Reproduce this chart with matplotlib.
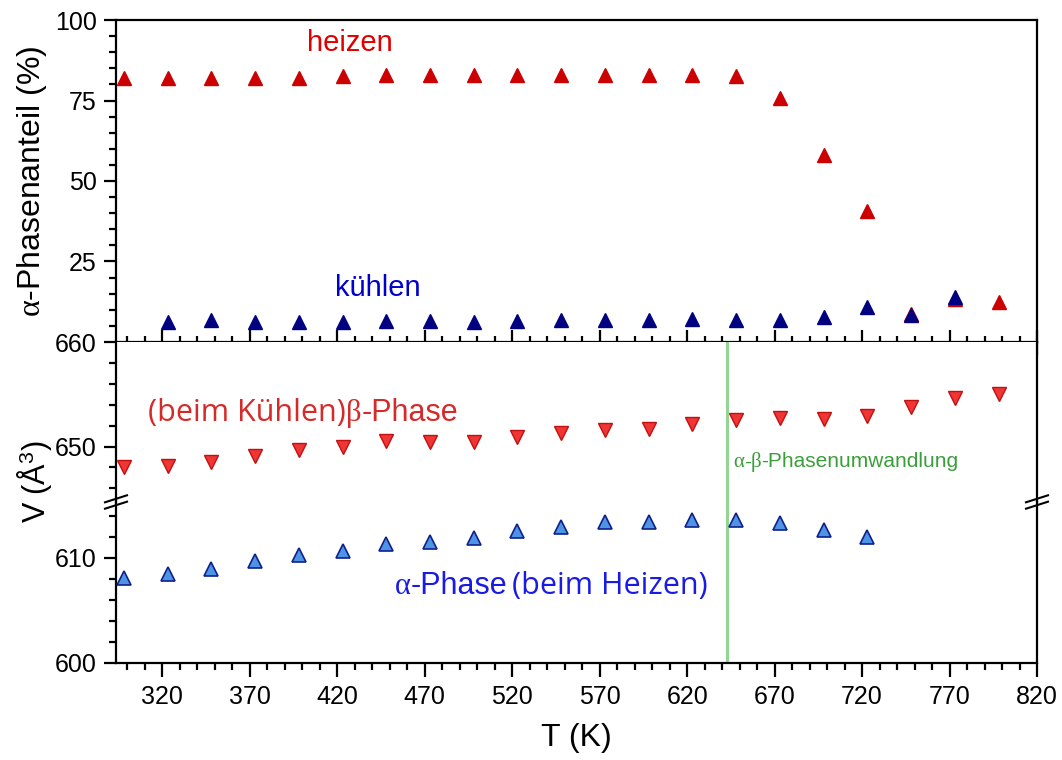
import numpy as np
import matplotlib
matplotlib.use("Agg")
import matplotlib.pyplot as plt
from matplotlib.ticker import FixedLocator, MultipleLocator

plt.rcParams["font.family"] = ["Liberation Sans", "DejaVu Sans"]
plt.rcParams["mathtext.fontset"] = "custom"
plt.rcParams["mathtext.rm"] = "Liberation Serif"
plt.rcParams["mathtext.it"] = "Liberation Serif:italic"

# temperature steps (K)
T_all = np.arange(298, 799, 25)

# alpha phase fraction (%) while heating / cooling
frac_heat = [82, 82, 82, 82, 82, 82.5, 83, 83, 83, 83, 83, 83, 83, 83,
             82.5, 75.8, 58.0, 40.6, 8.8, 13.4, 12.5]
T_cool_frac = T_all[1:20]
frac_cool = [6.2, 6.8, 6.3, 6.3, 6.3, 6.5, 6.5, 6.3, 6.6, 6.8, 6.8, 6.8,
             7.0, 6.8, 6.8, 7.8, 10.9, 8.4, 14.1]

# cell volume (A^3): beta phase on cooling, alpha phase on heating
vol_beta = [648.0, 648.1, 648.5, 649.1, 649.7, 650.0, 650.5, 650.4, 650.4,
            650.9, 651.3, 651.6, 651.7, 652.2, 652.5, 652.7, 652.6, 652.9,
            653.8, 654.6, 655.0]
T_alpha = T_all[:18]
vol_alpha = [608.1, 608.5, 608.9, 609.7, 610.3, 610.6, 611.3, 611.5, 611.9,
             612.5, 612.9, 613.4, 613.4, 613.6, 613.6, 613.3, 612.6, 612.0]

T_transition = 643

W, H = 1062, 760
fig = plt.figure(figsize=(W / 100, H / 100), dpi=100)
left, width = 116 / W, (1037 - 116) / W
ax_top = fig.add_axes([left, 1 - 342 / H, width, 322 / H])
ax_vu = fig.add_axes([left, 1 - 502 / H, width, 160 / H], sharex=ax_top)
ax_vl = fig.add_axes([left, 1 - 663 / H, width, 161 / H], sharex=ax_top)

lw = 1.6
for ax in (ax_top, ax_vu, ax_vl):
    for sp in ax.spines.values():
        sp.set_linewidth(lw)
    ax.tick_params(which="both", width=lw, labelsize=18, right=False, top=False)
    ax.tick_params(axis="y", which="major", direction="out", length=9, pad=5)
    ax.tick_params(axis="y", which="minor", direction="out", length=5)

ax_top.set_xlim(293.5, 820)
ax_top.xaxis.set_major_locator(FixedLocator(np.arange(320, 821, 50)))
ax_top.xaxis.set_minor_locator(MultipleLocator(10))

# --- phase fraction panel ---
ax_top.plot(T_all, frac_heat, "^", ms=10, color="#cc0000", mec="#cc0000", zorder=3)
ax_top.plot(T_cool_frac, frac_cool, "^", ms=10, color="#000080", mec="#000080", zorder=4)
ax_top.set_ylim(0, 100)
ax_top.yaxis.set_major_locator(FixedLocator([25, 50, 75, 100]))
ax_top.yaxis.set_minor_locator(FixedLocator(np.arange(5, 100, 5)))
ax_top.tick_params(axis="x", which="major", direction="inout", length=18, labelbottom=False)
ax_top.tick_params(axis="x", which="minor", direction="inout", length=9)
ax_top.set_ylabel(r"$\mathrm{\alpha}$-Phasenanteil (%)", fontsize=23)
ax_top.yaxis.set_label_coords(-0.073, 0.5)
ax_top.text(402.9, 90.3, "heizen", color="#e00000", fontsize=21, va="baseline")
ax_top.text(418.9, 14.4, "kühlen", color="#0000cc", fontsize=21, va="baseline")

# --- volume panel, broken y axis ---
for ax in (ax_vu, ax_vl):
    ax.plot(T_all, vol_beta, "v", ms=9.5, color="#f03535", mec="#c01010", mew=1.0, zorder=3)
    ax.plot(T_alpha, vol_alpha, "^", ms=9.5, color="#4d94e6", mec="#10208a", mew=1.2, zorder=3)
    ax.axvline(T_transition, color="#93d593", lw=2.2, zorder=1)

ax_vu.set_ylim(644.7, 660)
ax_vu.yaxis.set_major_locator(FixedLocator([650, 660]))
ax_vu.yaxis.set_minor_locator(MultipleLocator(2))
ax_vu.spines["bottom"].set_visible(False)
ax_vu.spines["top"].set_visible(False)
ax_vu.tick_params(axis="x", which="both", bottom=False, labelbottom=False)

ax_vl.set_ylim(600, 615.3)
ax_vl.yaxis.set_major_locator(FixedLocator([600, 610]))
ax_vl.yaxis.set_minor_locator(MultipleLocator(2))
ax_vl.spines["top"].set_visible(False)
ax_vl.tick_params(axis="x", which="major", direction="out", length=10, pad=6)
ax_vl.tick_params(axis="x", which="minor", direction="out", length=5)
ax_vl.set_xlabel("T (K)", fontsize=23, labelpad=10)

fig.text(35 / W, 1 - 482 / H, r"V (Å$^{\mathregular{3}}$)", fontsize=22,
         rotation=90, ha="center", va="center")

# "//" break marks on both vertical spines
y_break = 1 - 502 / H
for xa in (0, 1):
    x0 = left + xa * width
    for dy in (-3.2 / H, 3.2 / H):
        fig.add_artist(plt.Line2D([x0 - 11 / W, x0 + 11 / W],
                                  [y_break + dy - 3.5 / H, y_break + dy + 3.5 / H],
                                  color="black", lw=1.5,
                                  transform=fig.transFigure))

# annotations, pieces chained left to right
t1 = ax_vu.text(312, 652.4, "(beim Kühlen)", color="#d42a2a", fontsize=22,
                family=["Open Sans", "DejaVu Sans"], va="baseline")
t2 = ax_vu.annotate("β", xy=(1, 652.4), xycoords=(t1, "data"), color="#d42a2a",
                    fontsize=22, family=["Liberation Serif"], va="baseline")
ax_vu.annotate("-Phase", xy=(1, 652.4), xycoords=(t2, "data"), color="#d42a2a",
               fontsize=22, va="baseline")

t3 = ax_vl.text(453, 606.6, "α", color="#1a1ae6", fontsize=22,
                family=["Liberation Serif"], va="baseline")
t4 = ax_vl.annotate("-Phase", xy=(1, 606.6), xycoords=(t3, "data"), color="#1a1ae6",
                    fontsize=22, va="baseline")
ax_vl.annotate("(beim Heizen)", xy=(1, 606.6), xycoords=(t4, "data"),
               xytext=(3, 0), textcoords="offset points", color="#1a1ae6",
               fontsize=22, family=["Open Sans", "DejaVu Sans"], va="baseline")

t5 = ax_vu.text(646.3, 648.0, "α", color="#3a9e3a", fontsize=15,
                family=["Liberation Serif"], va="baseline")
t6 = ax_vu.annotate("-", xy=(1, 648.0), xycoords=(t5, "data"), color="#3a9e3a",
                    fontsize=15, va="baseline")
t7 = ax_vu.annotate("β", xy=(1, 648.0), xycoords=(t6, "data"), color="#3a9e3a",
                    fontsize=15, family=["Liberation Serif"], va="baseline")
ax_vu.annotate("-Phasenumwandlung", xy=(1, 648.0), xycoords=(t7, "data"),
               color="#3a9e3a", fontsize=15, va="baseline")

fig.savefig("out.png", dpi=100)
